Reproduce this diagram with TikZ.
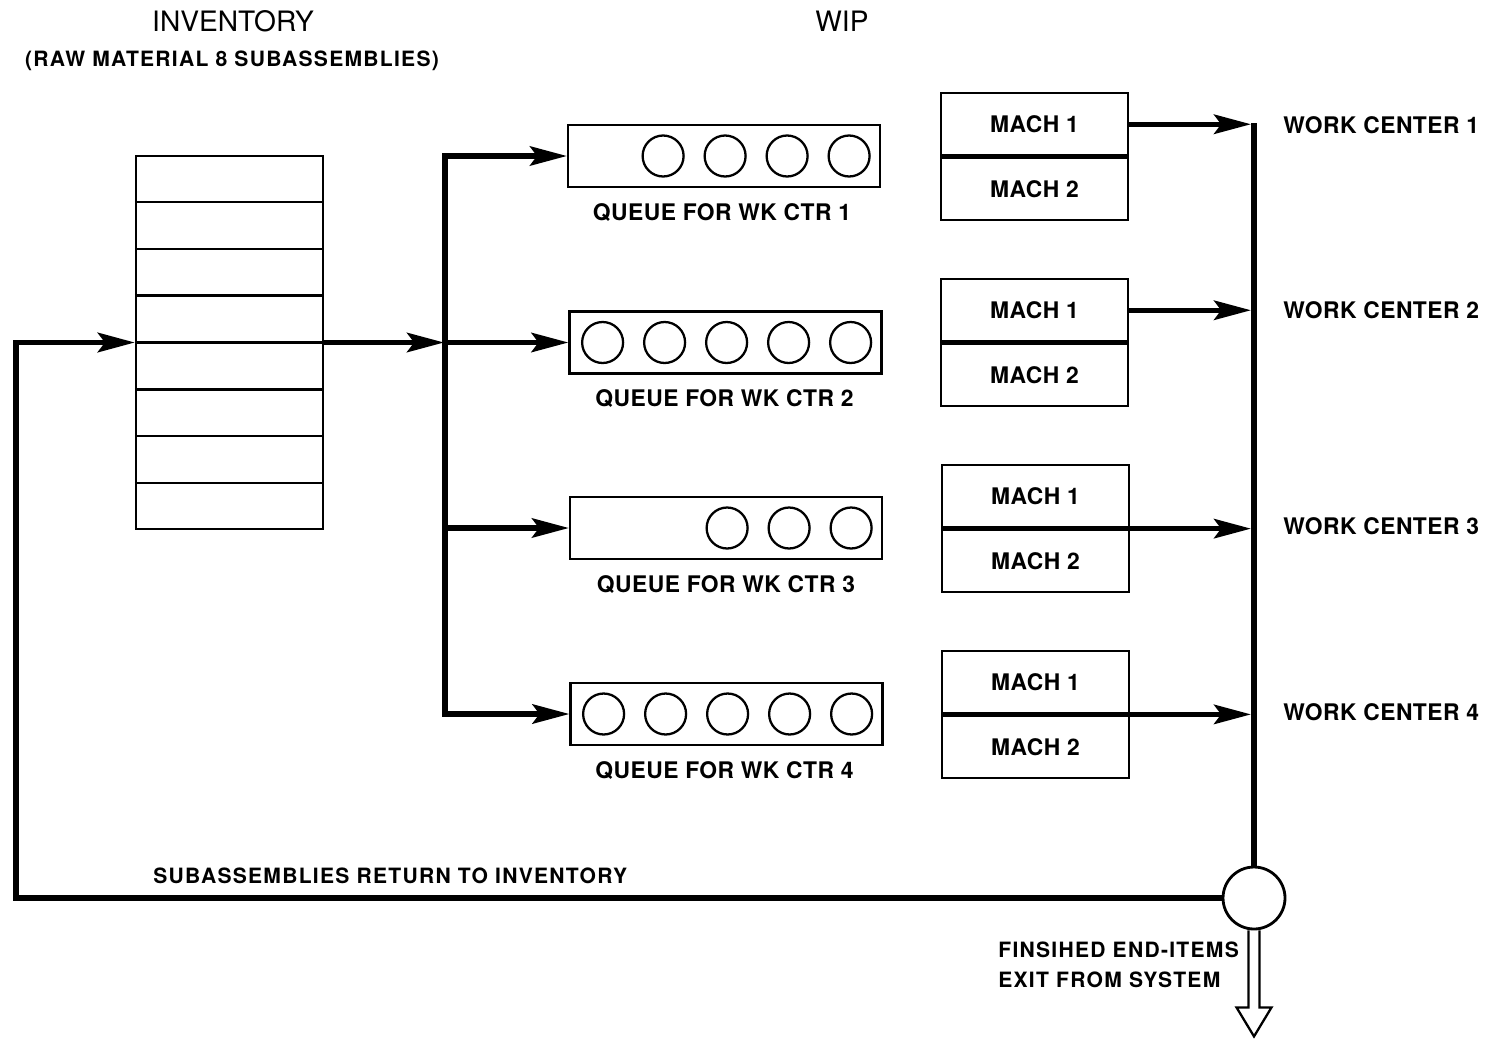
\documentclass[tikz,border=0pt]{standalone}
\usepackage{fontspec}
\setmainfont{TeX Gyre Heros}
\newfontfamily\lblfam{TeX Gyre Heros}[LetterSpace=6]
\newfontfamily\bigfam{TeX Gyre Heros}[LetterSpace=2]
\newcommand\lblf{\lblfam\bfseries\fontsize{12}{17}\selectfont}
\newcommand\bigf{\bigfam\bfseries\fontsize{13}{17}\selectfont}
\newcommand\hdf{\rmfamily\fontsize{16}{19}\selectfont}
\usetikzlibrary{arrows.meta,calc}
\begin{document}
\begin{tikzpicture}[x=0.02cm,y=-0.02cm,
 conn/.style={line width=3pt, line join=miter},
 tip/.style={-{Stealth[length=21pt,width=11pt,inset=4pt]}},
 box/.style={draw, line width=1.3pt, rectangle, inner sep=0pt},
 qbox/.style={box, minimum width=6.24cm, minimum height=1.24cm},
 mbox/.style={box, minimum width=3.74cm, minimum height=1.25cm, font=\bigf},
 ball/.style={draw, circle, line width=1.3pt, minimum size=0.82cm, inner sep=0pt},
 lbl/.style={font=\lblf, inner sep=0pt},
 blbl/.style={font=\bigf, inner sep=0pt},
]
\useasboundingbox (0,0) rectangle (1497,1038);

% headings
\node[font=\hdf, inner sep=0pt] (tinv) at (233,21) {INVENTORY};
\node[lbl] (traw) at (232,61) {(RAW MATERIAL 8 SUBASSEMBLIES)};
\node[font=\hdf, inner sep=0pt] (twip) at (842,21) {WIP};

% inventory
\node[box, minimum width=3.74cm, minimum height=7.46cm] (inv) at (229.5,342.5) {};
\foreach \i in {1,...,7}
  \draw[line width=1.3pt] ($(inv.north west)!\i/8!(inv.south west)$) -- ($(inv.north east)!\i/8!(inv.south east)$);

% queues
\node[qbox] (q1) at (724,156) {};
\node[qbox] (q2) at (725.5,342.5) {};
\node[qbox] (q3) at (726,528) {};
\node[qbox] (q4) at (726.5,714) {};
\foreach \k in {0,...,3} \node[ball] (q1b\k) at ($(q1.east)+(-32-62*\k,0)$) {};
\foreach \k in {0,...,4} \node[ball] (q2b\k) at ($(q2.east)+(-32-62*\k,0)$) {};
\foreach \k in {0,...,2} \node[ball] (q3b\k) at ($(q3.east)+(-32-62*\k,0)$) {};
\foreach \k in {0,...,4} \node[ball] (q4b\k) at ($(q4.east)+(-32-62*\k,0)$) {};
\node[blbl] (l1) at ($(q1.south)+(-2,24)$) {QUEUE FOR WK CTR 1};
\node[blbl] (l2) at ($(q2.south)+(-1,24)$) {QUEUE FOR WK CTR 2};
\node[blbl] (l3) at ($(q3.south)+(0,24)$) {QUEUE FOR WK CTR 3};
\node[blbl] (l4) at ($(q4.south)+(-2,24)$) {QUEUE FOR WK CTR 4};

% machines
\node[mbox] (m1a) at (1034.5,124.25) {MACH 1};
\node[mbox, anchor=north] (m1b) at (m1a.south) {MACH 2};
\node[mbox] (m2a) at (1034.5,310.25) {MACH 1};
\node[mbox, anchor=north] (m2b) at (m2a.south) {MACH 2};
\node[mbox] (m3a) at (1035.5,496.25) {MACH 1};
\node[mbox, anchor=north] (m3b) at (m3a.south) {MACH 2};
\node[mbox] (m4a) at (1035.5,682) {MACH 1};
\node[mbox, anchor=north] (m4b) at (m4a.south) {MACH 2};

% work center labels
\node[blbl, anchor=west] (wc1) at (1283,125) {WORK CENTER 1};
\node[blbl, anchor=west] (wc2) at (1283,310) {WORK CENTER 2};
\node[blbl, anchor=west] (wc3) at (1283,526) {WORK CENTER 3};
\node[blbl, anchor=west] (wc4) at (1283,712) {WORK CENTER 4};

% collector
\coordinate (rt) at (1254,123);
\node[draw, circle, line width=1.6pt, minimum size=1.24cm, inner sep=0pt] (ex) at (1254,898) {};
\draw[line width=3.5pt] (rt) -- (ex.north);
\draw[conn,tip] (m1a.east) -- ($(m1a.east -| rt)+(-3,0)$);
\draw[conn,tip] (m2a.east) -- ($(m2a.east -| rt)+(-3,0)$);
\draw[conn,tip] (m3a.south east) -- ($(m3a.south east -| rt)+(-3,0)$);
\draw[conn,tip] (m4a.south east) -- ($(m4a.south east -| rt)+(-3,0)$);

% return loop
\coordinate (lc) at (16,898);
\draw[line width=3.4pt, line join=miter, tip] (ex.west) -- (lc) |- (inv.west);
\node[lbl, anchor=west] (ret) at (153,876) {SUBASSEMBLIES RETURN TO INVENTORY};

% split to queues
\coordinate (sp) at (445,342.5);
\draw[conn,tip] (inv.east) -- ($(sp)+(-1,0)$);
\draw[conn,tip] (sp) |- (q1.west);
\draw[conn,tip] (sp) -- (q2.west);
\draw[conn,tip] (sp) |- (q3.west);
\draw[conn,tip] (sp) |- (q4.west);

% exit
\draw[line width=1.3pt, line join=miter]
  ($(ex.south)+(-5.5,0)$) -- ($(ex.south)+(-5.5,77)$) -- ($(ex.south)+(-17.5,77)$)
  -- ($(ex.south)+(0,106)$) -- ($(ex.south)+(17.5,77)$) -- ($(ex.south)+(5.5,77)$)
  -- ($(ex.south)+(5.5,0)$);
\node[lbl, anchor=west, align=left] (fin) at (998,965) {FINSIHED END-ITEMS\\EXIT FROM SYSTEM};
\end{tikzpicture}
\end{document}
